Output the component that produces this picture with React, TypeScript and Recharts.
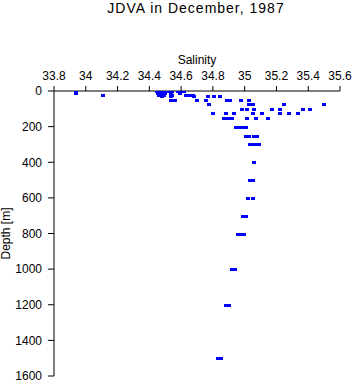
import React from "react";
import { Scatter, ScatterChart, XAxis, YAxis } from "recharts";

// standard sampling depths (m)
const depthLevels = [
    0, 10, 20, 30, 50, 75, 100, 125, 150, 200, 250, 300, 400, 500, 600, 700,
    800, 1000, 1200, 1500,
];

// salinity readings at each depth level (all stations)
const salinityAtLevel: number[][] = [
    [33.941, 34.448, 34.467, 34.486, 34.505, 34.53, 34.543, 34.58, 34.593, 34.618],
    [33.941, 34.454, 34.473, 34.498, 34.536, 34.593],
    [34.109, 34.461, 34.492, 34.543, 34.629, 34.656, 34.675],
    [34.48, 34.536, 34.681, 34.768, 34.808, 34.845],
    [34.536, 34.561, 34.698, 34.757, 34.888, 34.909, 34.978, 35.028],
    [34.774, 35.028, 35.054, 35.247, 35.502],
    [34.984, 35.016, 35.058, 35.173, 35.224, 35.369, 35.413],
    [34.799, 34.881, 34.932, 35.052, 35.109, 35.223, 35.28, 35.336],
    [34.868, 34.893, 34.918, 35.013, 35.07, 35.146],
    [34.943, 34.962, 34.981, 35.006],
    [35.006, 35.025, 35.056, 35.075],
    [35.031, 35.05, 35.069, 35.088],
    [35.056],
    [35.034, 35.05],
    [35.022, 35.05],
    [34.99, 35.009],
    [34.959, 34.978, 34.997],
    [34.921, 34.94],
    [34.883, 34.902],
    [34.832, 34.851],
];

const salinityTicks = [33.8, 34, 34.2, 34.4, 34.6, 34.8, 35, 35.2, 35.4, 35.6];
const depthTicks = [0, 200, 400, 600, 800, 1000, 1200, 1400, 1600];

const points = depthLevels.flatMap((depth, i) =>
    salinityAtLevel[i].map((salinity) => ({ salinity, depth }))
);

const font = "'Liberation Sans', Arial, sans-serif";

const Marker = (props: any) => {
    const { cx, cy } = props;
    if (cx == null || cy == null) return null;
    return (
        <rect
            x={Math.round(cx) - 2}
            y={Math.round(cy) - 1}
            width={4}
            height={3}
            fill="#0000ff"
            shapeRendering="crispEdges"
        />
    );
};

export default function App() {
    return (
        <div
            style={{
                position: "absolute",
                left: 0,
                top: 0,
                width: 353,
                height: 384,
                background: "#fff",
                fontFamily: font,
            }}
        >
            <div
                style={{
                    position: "absolute",
                    left: 0,
                    top: 0,
                    width: 392,
                    textAlign: "center",
                    fontSize: 14,
                    lineHeight: "16px",
                    letterSpacing: 1,
                    color: "#000",
                }}
            >
                JDVA in December, 1987
            </div>
            <ScatterChart
                width={353}
                height={384}
                margin={{ top: 61, right: 13, bottom: 8, left: 4 }}
            >
                <XAxis
                    type="number"
                    dataKey="salinity"
                    orientation="top"
                    height={30}
                    domain={[33.8, 35.6]}
                    ticks={salinityTicks}
                    allowDataOverflow
                    stroke="#000"
                    tickSize={5}
                    tickMargin={6}
                    tick={{ fill: "#000", fontSize: 12, fontFamily: font }}
                    interval={0}
                    label={{
                        value: "Salinity",
                        position: "top",
                        offset: -3,
                        style: { fill: "#000", fontSize: 12, fontFamily: font },
                    }}
                />
                <YAxis
                    type="number"
                    dataKey="depth"
                    reversed
                    width={50}
                    domain={[0, 1600]}
                    ticks={depthTicks}
                    allowDataOverflow
                    stroke="#000"
                    tickSize={6}
                    tickMargin={6}
                    tick={{ fill: "#000", fontSize: 12, fontFamily: font }}
                    interval={0}
                    label={{
                        value: "Depth [m]",
                        angle: -90,
                        position: "insideLeft",
                        offset: 2,
                        style: {
                            fill: "#000",
                            fontSize: 12,
                            fontFamily: font,
                            textAnchor: "middle",
                        },
                    }}
                />
                <Scatter
                    data={points}
                    shape={Marker}
                    fill="#0000ff"
                    isAnimationActive={false}
                />
            </ScatterChart>
        </div>
    );
}
